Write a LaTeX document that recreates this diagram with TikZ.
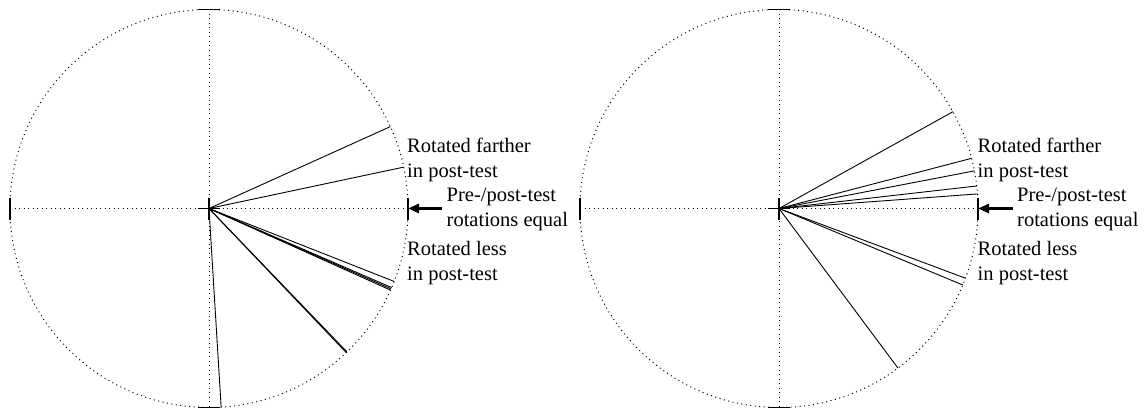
\documentclass[tikz,border=0pt]{standalone}
\usepackage{fontspec}
\setmainfont{Liberation Serif}
\usetikzlibrary{arrows.meta}
\tikzset{
  guide/.style={line width=1pt, dash pattern=on 1pt off 3.5pt},
  guidebold/.style={line width=1.5pt, dash pattern=on 1.3pt off 3.2pt},
  tick/.style={line width=1.6pt},
  ray/.style={line width=0.9pt},
  lbl/.style={anchor=base west, inner sep=0pt, align=left, font=\fontsize{20.5}{25}\selectfont},
  eqarrow/.style={line width=2.8pt, -{Triangle[length=11pt,width=9pt]}}
}
\begin{document}
\begin{tikzpicture}[x=1pt,y=1pt]
\useasboundingbox (0,0) rectangle (1147,408);
\foreach \cx/\nm in {209/L, 779/R}{
  \coordinate (\nm) at (\cx,199.5);
  \coordinate (\nm E) at (\cx+199,199.5);
  \coordinate (\nm W) at (\cx-199,199.5);
  \coordinate (\nm N) at (\cx,398.5);
  \coordinate (\nm S) at (\cx,0.5);
  \draw[guide] (\nm) circle (199);
  \draw[guide] (\nm W) -- (\nm);
  \draw[guidebold] (\nm) -- (\nm E);
  \draw[guide] (\nm N) -- (\nm S);
  \foreach \p in {\nm, \nm E, \nm W}{
    \draw[tick] ([yshift=-11]\p) -- ([yshift=11]\p);
  }
  \foreach \p in {\nm, \nm N, \nm S}{
    \draw[tick] ([xshift=-11]\p) -- ([xshift=11]\p);
  }
}
% left circle rays
\foreach \a in {24.3, 12.0, -21.5, -23.4, -23.8, -24.2, -46.1, -46.4, -86.5}{
  \draw[ray] (L) -- ++(\a:199);
}
% right circle rays
\foreach \a in {29.1, 14.6, 10.9, 6.5, 4.2, -20.5, -22.6, -53.3}{
  \draw[ray] (R) -- ++(\a:199);
}
% labels left (anchor = baseline of last line)
\node[lbl] (fL) at (407,230.5) {Rotated farther\\in post-test};
\node[lbl] (eL) at (446.5,181.3) {Pre-/post-test\\rotations equal};
\node[lbl] (sL) at (407,128) {Rotated less\\in post-test};
\coordinate (aL) at (442,199.5);
\draw[eqarrow] (aL) -- (LE);
% labels right
\node[lbl] (fR) at (977.5,230.5) {Rotated farther\\in post-test};
\node[lbl] (eR) at (1017,181.3) {Pre-/post-test\\rotations equal};
\node[lbl] (sR) at (977.5,128) {Rotated less\\in post-test};
\coordinate (aR) at (1012.5,199.5);
\draw[eqarrow] (aR) -- (RE);
\end{tikzpicture}
\end{document}
